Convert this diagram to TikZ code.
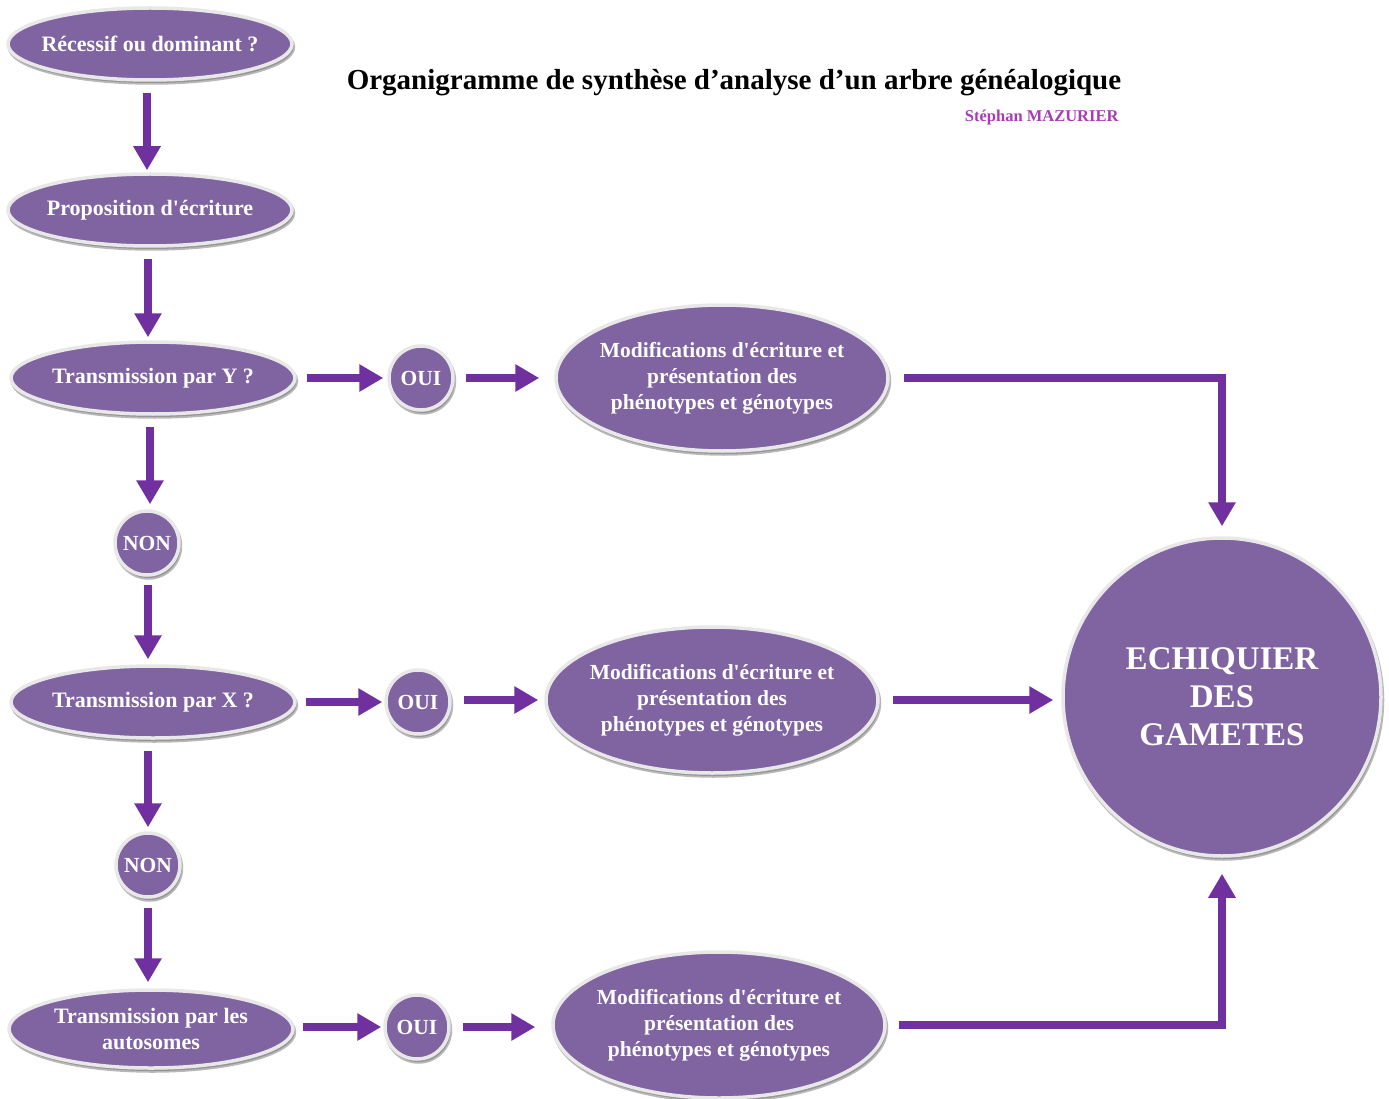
\documentclass[tikz,border=0pt]{standalone}
\usepackage{fontspec}
\setmainfont{Liberation Serif}[Ligatures=TeXOff]
\usetikzlibrary{arrows.meta,shapes.geometric,shadows}
\definecolor{nodefill}{HTML}{8064A2}
\definecolor{arrowcol}{HTML}{7030A0}
\definecolor{ringcol}{HTML}{E8E8E8}
\definecolor{authorcol}{HTML}{A83CB4}
\begin{document}
\begin{tikzpicture}[x=1pt,y=-1pt,
  bubble/.style={fill=nodefill, draw=ringcol, line width=3.5pt, inner sep=0pt,
    text=white, align=center,
    drop shadow={shadow xshift=1.5pt, shadow yshift=-3pt, fill=black!55, draw=black!55, line width=3.5pt, opacity=0.5}},
  qbox/.style={bubble, ellipse, inner xsep=-30pt, minimum width=284pt, minimum height=72pt, font=\bfseries\fontsize{22}{26}\selectfont},
  modbox/.style={bubble, ellipse, inner xsep=-30pt, minimum width=332pt, minimum height=146pt, font=\bfseries\fontsize{21.5}{26}\selectfont},
  ansbox/.style={bubble, circle, inner sep=-6pt, minimum size=64pt, font=\bfseries\fontsize{21.5}{24}\selectfont},
  bigbox/.style={bubble, circle, minimum size=318pt, font=\bfseries\fontsize{33}{38}\selectfont},
  arr/.style={draw=arrowcol, line width=8pt, -{Triangle[width=26pt,length=24pt]}}]
\useasboundingbox (0,0) rectangle (1389,1099);
\fill[white] (0,0) rectangle (1389,1099);

% title
\node[font=\bfseries\fontsize{29}{34}\selectfont] (title) at (734,83) {Organigramme de synthèse d’analyse d’un arbre généalogique};
\node[anchor=east, text=authorcol, font=\bfseries\fontsize{16.5}{19}\selectfont] (auth) at (1122,118) {Stéphan MAZURIER};

% left column
\node[qbox] (rec) at (150,44) {Récessif ou dominant ?};
\node[qbox] (prop) at (150,210) {Proposition d'écriture};
\node[qbox] (ty) at (153,378) {Transmission par Y ?};
\node[ansbox] (non1) at (147,543) {NON};
\node[qbox] (tx) at (153,702) {Transmission par X ?};
\node[ansbox] (non2) at (148,865) {NON};
\node[qbox, minimum height=78pt] (ta) at (151,1029) {Transmission par les\\autosomes};

% OUI circles
\node[ansbox] (oui1) at (421,378) {OUI};
\node[ansbox] (oui2) at (418,702) {OUI};
\node[ansbox] (oui3) at (417,1027) {OUI};

% modification ellipses
\node[modbox] (mod1) at (722,378) {Modifications d'écriture et\\présentation des\\phénotypes et génotypes};
\node[modbox] (mod2) at (712,700) {Modifications d'écriture et\\présentation des\\phénotypes et génotypes};
\node[modbox] (mod3) at (719,1025) {Modifications d'écriture et\\présentation des\\phénotypes et génotypes};

% big circle
\node[bigbox] (ech) at (1222,697) {ECHIQUIER\\DES\\GAMETES};

% vertical arrows
\draw[arr, shorten <=11pt, shorten >=2pt] (rec.south -| 147,0) -- (prop.north -| 147,0);
\draw[arr, shorten <=11pt, shorten >=3pt] (prop.south -| 148,0) -- (ty.north -| 148,0);
\draw[arr, shorten <=11pt, shorten >=5pt] (ty.south -| 150,0) -- (non1.north -| 150,0);
\draw[arr, shorten <=8pt, shorten >=5pt] (non1.south -| 148,0) -- (tx.north -| 148,0);
\draw[arr, shorten <=11pt, shorten >=4pt] (tx.south -| 148,0) -- (non2.north -| 148,0);
\draw[arr, shorten <=9pt, shorten >=6pt] (non2.south -| 148,0) -- (ta.north -| 148,0);

% horizontal arrows
\draw[arr, shorten <=10pt, shorten >=4pt] (ty.east) -- (oui1.west);
\draw[arr, shorten <=11pt, shorten >=15pt] (oui1.east) -- (mod1.west);
\draw[arr, shorten <=9pt, shorten >=2pt] (tx.east) -- (oui2.west);
\draw[arr, shorten <=12pt, shorten >=6pt] (oui2.east |- mod2.west) -- (mod2.west);
\draw[arr, shorten <=8pt, shorten >=2pt] (ta.east |- oui3.west) -- (oui3.west);
\draw[arr, shorten <=12pt, shorten >=16pt] (oui3.east) -- (oui3.east -| mod3.west);

% to the big circle
\draw[arr, shorten <=13pt, shorten >=8pt] (mod2.east) -- (mod2.east -| ech.west);
\draw[arr, shorten <=14pt, shorten >=10pt] (mod1.east) -| (ech.north);
\draw[arr, shorten <=12pt, shorten >=16pt] (mod3.east) -| (ech.south);
\end{tikzpicture}
\end{document}
